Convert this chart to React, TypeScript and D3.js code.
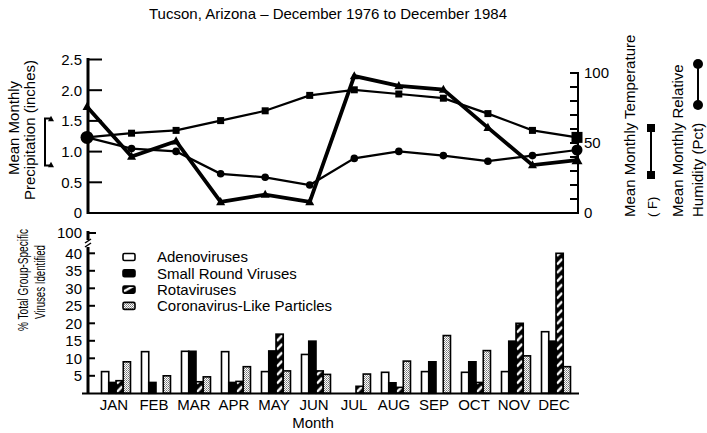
import React from "react";
import * as d3 from "d3";

const months = ["JAN", "FEB", "MAR", "APR", "MAY", "JUN", "JUL", "AUG", "SEP", "OCT", "NOV", "DEC"];
const precipitation = [1.73, 0.92, 1.17, 0.18, 0.3, 0.18, 2.23, 2.07, 2.01, 1.39, 0.78, 0.86];
const temperature = [54, 57, 59, 66, 73, 84, 88, 85, 82, 71, 59, 54];
const humidity = [54, 46, 44, 28, 25.5, 20, 39, 44, 41, 37, 41, 45];

const adeno = [6.2, 11.9, 12, 11.9, 6.2, 11.1, 0, 6.0, 6.2, 6.0, 6.2, 17.6];
const smallRound = [3.1, 3.1, 12, 3.1, 12.1, 14.9, 0, 3.0, 9.0, 9.0, 14.9, 14.9];
const rota = [3.6, 0, 3.3, 3.4, 16.9, 6.4, 2.0, 1.7, 0, 3.1, 20.0, 40];
const corona = [9.0, 5.0, 4.7, 7.6, 6.4, 5.4, 5.5, 9.2, 16.5, 12.2, 10.7, 7.6];

const seriesNames = ["Adenoviruses", "Small Round Viruses", "Rotaviruses", "Coronavirus-Like Particles"];
const leftTicks = [0, 0.5, 1.0, 1.5, 2.0, 2.5];
const rightTicks = [0, 10, 20, 30, 40, 50, 60, 70, 80, 90, 100];
const rightLabels = [0, 50, 100];
const barTicks = [5, 10, 15, 20, 25, 30, 35, 40];

const FONT = "'Liberation Sans', Arial, Helvetica, sans-serif";

function Tri({ x, y, s }: { x: number; y: number; s: number }) {
  const h = s * 0.9;
  return <path d={`M${x},${y - h * 0.6} L${x + s / 2},${y + h * 0.4} L${x - s / 2},${y + h * 0.4} Z`} fill="#000" />;
}

export default function App() {
  const xTop = d3.scalePoint<string>().domain(months).range([87, 577]);
  const yLeft = d3.scaleLinear().domain([0, 2.5]).range([213, 59.5]);
  const yRight = d3.scaleLinear().domain([0, 100]).range([213, 73]);

  const xBand = d3.scaleBand<string>().domain(months).range([96, 576]).paddingInner(0.275).paddingOuter(0.1375);
  const xSub = d3.scaleBand<number>().domain([0, 1, 2, 3]).range([0, xBand.bandwidth()]);
  const yBar = d3.scaleLinear().domain([0, 40]).range([393.3, 253.3]);
  const bw = xSub.bandwidth();

  const precLine = d3.line<number>().x((_, i) => xTop(months[i])!).y((d) => yLeft(d));
  const rLine = d3.line<number>().x((_, i) => xTop(months[i])!).y((d) => yRight(d));

  const barSeries = [adeno, smallRound, rota, corona];
  const fillFor = (si: number, key: string) =>
    si === 0 ? "#fff" : si === 1 ? "#000" : si === 2 ? `url(#hatch-${key})` : "url(#stipple)";

  const hatchPattern = (key: string, x: number, y: number, w: number) => (
    <pattern key={"hp" + key} id={`hatch-${key}`} patternUnits="userSpaceOnUse" x={x} y={y} width={w} height={8.5}>
      <rect width={w} height={8.5} fill="#000" />
      <line x1={0.9} y1={7.2} x2={w - 0.9} y2={1.6} stroke="#fff" strokeWidth={2.3} />
    </pattern>
  );

  return (
    <svg width={707} height={433} style={{ position: "absolute", left: 0, top: 0, background: "#fff" }} fontFamily={FONT}>
      <defs>
        {months.map((m, i) => hatchPattern(String(i), xBand(m)! + xSub(2)!, yBar(0), bw))}
        {hatchPattern("legend", 123, 250, 12)}
        <pattern id="stipple" patternUnits="userSpaceOnUse" width="2" height="2">
          <rect width="2" height="2" fill="#fff" />
          <rect width="1" height="1" fill="#777" />
          <rect x="1" y="1" width="1" height="1" fill="#999" />
        </pattern>
      </defs>

      {/* Title */}
      <text x={328} y={19} fontSize={15} textAnchor="middle">Tucson, Arizona – December 1976 to December 1984</text>

      {/* ===== Top panel ===== */}
      <line x1={88} y1={58} x2={88} y2={214} stroke="#000" strokeWidth={3} />
      <line x1={87} y1={213} x2={579} y2={213} stroke="#000" strokeWidth={2} />
      <line x1={578} y1={72} x2={578} y2={214} stroke="#000" strokeWidth={2} />
      {leftTicks.map((t) => (
        <g key={"lt" + t}>
          {t > 0 && <line x1={88} x2={102} y1={yLeft(t)} y2={yLeft(t)} stroke="#000" strokeWidth={2} />}
          <text x={82} y={yLeft(t)} dy="0.36em" fontSize={15} textAnchor="end">{t === 0 ? "0" : t.toFixed(1)}</text>
        </g>
      ))}
      {rightTicks.map((t) => (
        <line key={"rt" + t} x1={570} x2={578} y1={yRight(t)} y2={yRight(t)} stroke="#000" strokeWidth={2} />
      ))}
      {rightLabels.map((t) => (
        <text key={"rl" + t} x={584} y={yRight(t)} dy="0.36em" fontSize={15}>{t}</text>
      ))}

      <path d={rLine(temperature)!} fill="none" stroke="#000" strokeWidth={2.2} />
      <path d={rLine(humidity)!} fill="none" stroke="#000" strokeWidth={2.2} />
      <path d={precLine(precipitation)!} fill="none" stroke="#000" strokeWidth={3.8} />
      {temperature.map((v, i) => {
        const s = i === months.length - 1 ? 11 : 7;
        return <rect key={"tq" + i} x={xTop(months[i])! - s / 2} y={yRight(v) - s / 2} width={s} height={s} fill="#000" />;
      })}
      {humidity.map((v, i) => {
        const r = i === 0 ? 6.5 : i === months.length - 1 ? 5.5 : 3.8;
        return <circle key={"hc" + i} cx={xTop(months[i])!} cy={yRight(v)} r={r} fill="#000" />;
      })}
      {precipitation.map((v, i) => (
        <Tri key={"pt" + i} x={xTop(months[i])!} y={yLeft(v)} s={i === months.length - 1 ? 11 : 9} />
      ))}

      <text transform="translate(19,128) rotate(-90)" fontSize={15} textAnchor="middle">Mean Monthly</text>
      <text transform="translate(35,130) rotate(-90)" fontSize={15} textAnchor="middle">Precipitation (inches)</text>
      <path d="M50,118.5 L45,118.5 L45,165.5 L50,165.5" fill="none" stroke="#000" strokeWidth={2} />
      <Tri x={51} y={119} s={6} />
      <Tri x={51} y={165} s={6} />

      <text transform="translate(635,217) rotate(-90)" fontSize={15}>Mean Monthly Temperature</text>
      <text transform="translate(657,217) rotate(-90)" fontSize={13}>( F)</text>
      <line x1={651} x2={651} y1={128} y2={175} stroke="#000" strokeWidth={2} />
      <rect x={647} y={124} width={8} height={8} fill="#000" />
      <rect x={647} y={171} width={8} height={8} fill="#000" />
      <text transform="translate(683,217) rotate(-90)" fontSize={15}>Mean Monthly Relative</text>
      <text transform="translate(703,217) rotate(-90)" fontSize={15}>Humidity (Pct)</text>
      <line x1={698} x2={698} y1={64} y2={105} stroke="#000" strokeWidth={2} />
      <circle cx={698} cy={64} r={5} fill="#000" />
      <circle cx={698} cy={105} r={5} fill="#000" />

      {/* ===== Bottom panel ===== */}
      <line x1={88} y1={231} x2={88} y2={240} stroke="#000" strokeWidth={3} />
      <line x1={88} y1={247} x2={88} y2={394} stroke="#000" strokeWidth={3} />
      <path d="M85,243 L91,239" stroke="#000" strokeWidth={1.5} />
      <path d="M85,247 L91,243" stroke="#000" strokeWidth={1.5} />
      <line x1={88} x2={96} y1={233} y2={233} stroke="#000" strokeWidth={2} />
      <text x={82} y={233} dy="0.36em" fontSize={15} textAnchor="end">100</text>
      {barTicks.map((t) => (
        <g key={"bt" + t}>
          <line x1={88} x2={95} y1={yBar(t)} y2={yBar(t)} stroke="#000" strokeWidth={2} />
          <text x={82} y={yBar(t)} dy="0.36em" fontSize={15} textAnchor="end">{t}</text>
        </g>
      ))}

      {barSeries.map((vals, si) =>
        vals.map((v, i) =>
          v > 0 ? (
            <rect
              key={`b${si}-${i}`}
              x={xBand(months[i])! + xSub(si)!}
              y={yBar(v)}
              width={bw}
              height={yBar(0) - yBar(v)}
              fill={fillFor(si, String(i))}
              stroke="#000"
              strokeWidth={1.6}
            />
          ) : null
        )
      )}
      <line x1={82} x2={579} y1={393.5} y2={393.5} stroke="#000" strokeWidth={2} />

      {months.map((m) => (
        <text key={"ml" + m} x={xBand(m)! + xBand.bandwidth() / 2 - 2} y={405} dy="0.36em" fontSize={15} textAnchor="middle">{m}</text>
      ))}
      <text x={313} y={423} dy="0.36em" fontSize={15} textAnchor="middle">Month</text>

      <text transform="translate(28,280) rotate(-90)" fontSize={15} textAnchor="middle" textLength={102} lengthAdjust="spacingAndGlyphs">% Total Group-Specific</text>
      <text transform="translate(45,282) rotate(-90)" fontSize={15} textAnchor="middle" textLength={74} lengthAdjust="spacingAndGlyphs">Viruses Identified</text>

      {seriesNames.map((n, i) => {
        const y = 257 + i * 16.3;
        return (
          <g key={"lg" + i}>
            <rect x={123} y={y - 3.5} width={12} height={7} rx={1.5} fill={fillFor(i, "legend")} stroke="#000" strokeWidth={1.6} />
            <text x={157} y={y} dy="0.36em" fontSize={15}>{n}</text>
          </g>
        );
      })}
    </svg>
  );
}
